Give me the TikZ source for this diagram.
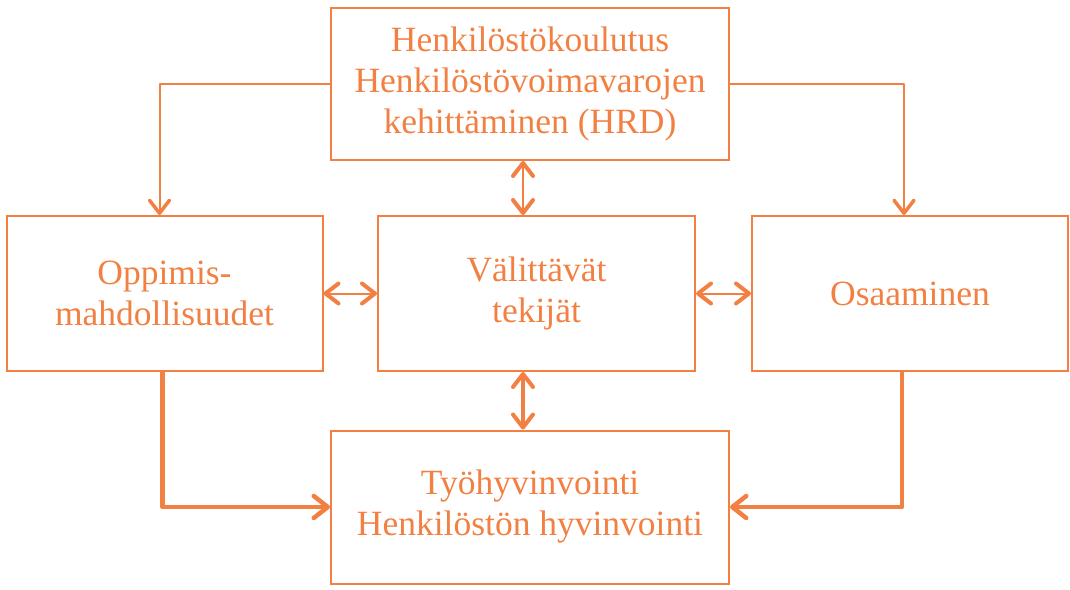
\documentclass[tikz,border=0pt]{standalone}
\usepackage{fontspec}
\setmainfont{Liberation Serif}
\usetikzlibrary{arrows.meta}
\definecolor{hrdorange}{RGB}{242,128,66}

\begin{document}
\begin{tikzpicture}[x=1pt,y=-1pt,
  box/.style={draw=hrdorange,line width=2pt,inner sep=0,align=center,text=hrdorange,
    font=\fontsize{35.5}{41}\selectfont},
  thinarrow/.style={draw=hrdorange,line width=2pt,line join=round,
    -{Straight Barb[length=13pt,width=20pt,line width=3.5pt,round]}},
  thickarrow/.style={draw=hrdorange,line width=4.5pt,line join=round,
    -{Straight Barb[length=14pt,width=22pt,line width=4.5pt,round]}},
  twoway/.style={draw=hrdorange,line width=2pt,
    {Straight Barb[length=13pt,width=20pt,line width=4pt,round]}-{Straight Barb[length=13pt,width=20pt,line width=4pt,round]}}]

\useasboundingbox (0,0) rectangle (1070,589);

% boxes

\node (hrd) at (530,84) [box,minimum width=398,minimum height=152]
  {Henkilöstökoulutus\\Henkilöstövoimavarojen\\kehittäminen (HRD)};
\node (oppi) at (164.5,293.5) [box,minimum width=316,minimum height=155]
  {Oppimis-\\mahdollisuudet};
\node (vali) at (536.5,293.5) [box,minimum width=317,minimum height=155]
  {Välittävät\\tekijät};
\node (osaa) at (910,293.5) [box,minimum width=316,minimum height=155]
  {Osaaminen};
\node (hyvi) at (530,507) [box,minimum width=398,minimum height=153]
  {Työhyvinvointi\\Henkilöstön hyvinvointi};

% from training down to the sides

\draw [thinarrow] (hrd.west) -| ([xshift=-5]oppi.north);
\draw [thinarrow] (hrd.east) -| ([xshift=-6]osaa.north);

% two-way links round the middle

\draw [twoway] ([xshift=-7]hrd.south) -- ([xshift=-7]hrd.south |- vali.north);
\draw [twoway] (oppi.east) -- (vali.west);
\draw [twoway] (vali.east) -- (osaa.west);
\draw [twoway,line width=4.5pt] ([xshift=-7]hyvi.north |- vali.south) -- ([xshift=-7]hyvi.north);

% to wellbeing

\draw [thickarrow] ([xshift=-2]oppi.south) |- (hyvi.west);
\draw [thickarrow] ([xshift=-8]osaa.south) |- (hyvi.east);

\end{tikzpicture}
\end{document}
